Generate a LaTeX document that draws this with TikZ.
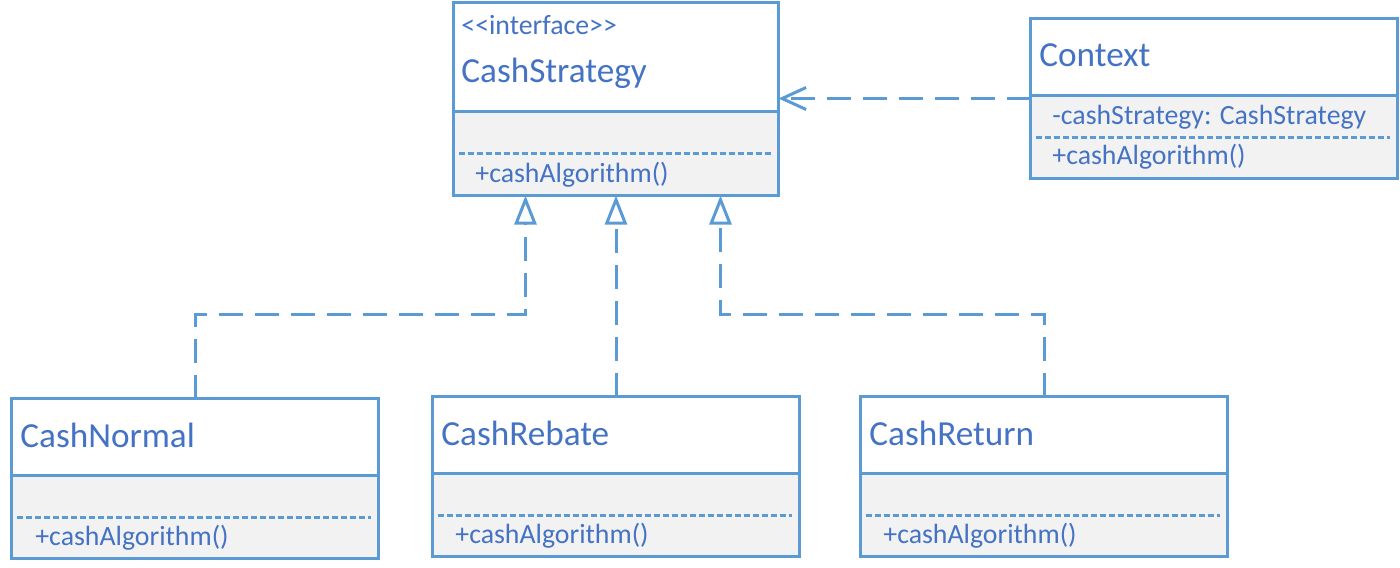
\documentclass[tikz,border=0pt]{standalone}
\usepackage{fontspec}
\setmainfont{Carlito}
\usepackage{tikz}
\usetikzlibrary{arrows.meta}
\usetikzlibrary{positioning}

\definecolor{umlline}{HTML}{5B9BD5}
\definecolor{umltext}{HTML}{4472C4}
\definecolor{umlfill}{HTML}{F2F2F2}

\tikzset{
  classhead/.style={draw=umlline, line width=1.5pt, fill=white, anchor=north west,
    inner sep=0pt, outer sep=0pt, minimum width=183.5pt, minimum height=38.5pt},
  classbody/.style={draw=umlline, line width=1.5pt, fill=umlfill,
    inner sep=0pt, outer sep=0pt, minimum width=183.5pt, minimum height=41.5pt},
  classname/.style={anchor=base west, inner sep=0pt, text=umltext, font=\fontsize{17.6}{20}\selectfont},
  member/.style={anchor=base west, inner sep=0pt, text=umltext, font=\fontsize{13.9}{16}\selectfont},
  sepline/.style={draw=umlline, line width=1.2pt, dash pattern=on 3pt off 1.5pt},
  realize/.style={draw=umlline, line width=1.5pt, dash pattern=on 12pt off 6pt,
    -{Triangle[open,length=14.5pt,width=11pt]}},
  depend/.style={draw=umlline, line width=1.5pt, dash pattern=on 12pt off 6pt,
    -{Straight Barb[length=12pt,width=11pt]}}
}

\begin{document}
\begin{tikzpicture}[x=0.5pt,y=-0.5pt]
  \useasboundingbox (0,0) rectangle (1400,567);
  % classes
  \node[classhead, minimum width=162.5pt, minimum height=54.5pt] (strathead) at (453.5,2.5) {};
  \node[classbody, minimum width=162.5pt, minimum height=42pt, below=0pt of strathead] (stratbody) {};
  \node[classhead] (ctxhead) at (1030.5,18.5) {};
  \node[classbody, below=0pt of ctxhead] (ctxbody) {};
  \node[classhead] (normalhead) at (11.5,398.5) {};
  \node[classbody, below=0pt of normalhead] (normalbody) {};
  \node[classhead] (rebatehead) at (432.5,396.5) {};
  \node[classbody, below=0pt of rebatehead] (rebatebody) {};
  \node[classhead] (returnhead) at (860.5,396.5) {};
  \node[classbody, below=0pt of returnhead] (returnbody) {};
  \foreach \c in {strat,ctx,normal,rebate,return}
    \draw[sepline] ([xshift=2.5pt,yshift=-21pt]\c body.north west) -- ([xshift=-4pt,yshift=-21pt]\c body.north east);

  % texts
  \node[member] (stratstereo) at (461,35) {<\kern0pt<interface>\kern0pt>};
  \node[classname] (stratname) at (461,83) {CashStrategy};
  \node[member] (stratop) at (475,182) {+cashAlgorithm()};
  \node[classname] (ctxname) at (1039,67) {Context};
  \node[member] (ctxattr) at (1052,125) {-cashStrategy: CashStrategy};
  \node[member] (ctxop) at (1052,164) {+cashAlgorithm()};
  \node[classname] (normalname) at (20,447) {CashNormal};
  \node[member] (normalop) at (35,545) {+cashAlgorithm()};
  \node[classname] (rebatename) at (441,445) {CashRebate};
  \node[member] (rebateop) at (455,543) {+cashAlgorithm()};
  \node[classname] (returnname) at (869,445) {CashReturn};
  \node[member] (returnop) at (883,543) {+cashAlgorithm()};

  % connectors
  \coordinate (rowbend) at (0,314);
  \coordinate (normalin) at ([xshift=-45.25pt]stratbody.south);
  \coordinate (returnin) at ([xshift=52.25pt]stratbody.south);
  \coordinate (ctxout) at ([yshift=-1.5pt]ctxhead.south west);
  \draw[realize] (normalhead.north) |- (normalin |- rowbend) -- (normalin);
  \draw[realize] (rebatehead.north) -- (stratbody.south);
  \draw[realize] (returnhead.north) |- (returnin |- rowbend) -- (returnin);
  \draw[depend] (ctxout) -- (ctxout -| strathead.east);
\end{tikzpicture}
\end{document}
